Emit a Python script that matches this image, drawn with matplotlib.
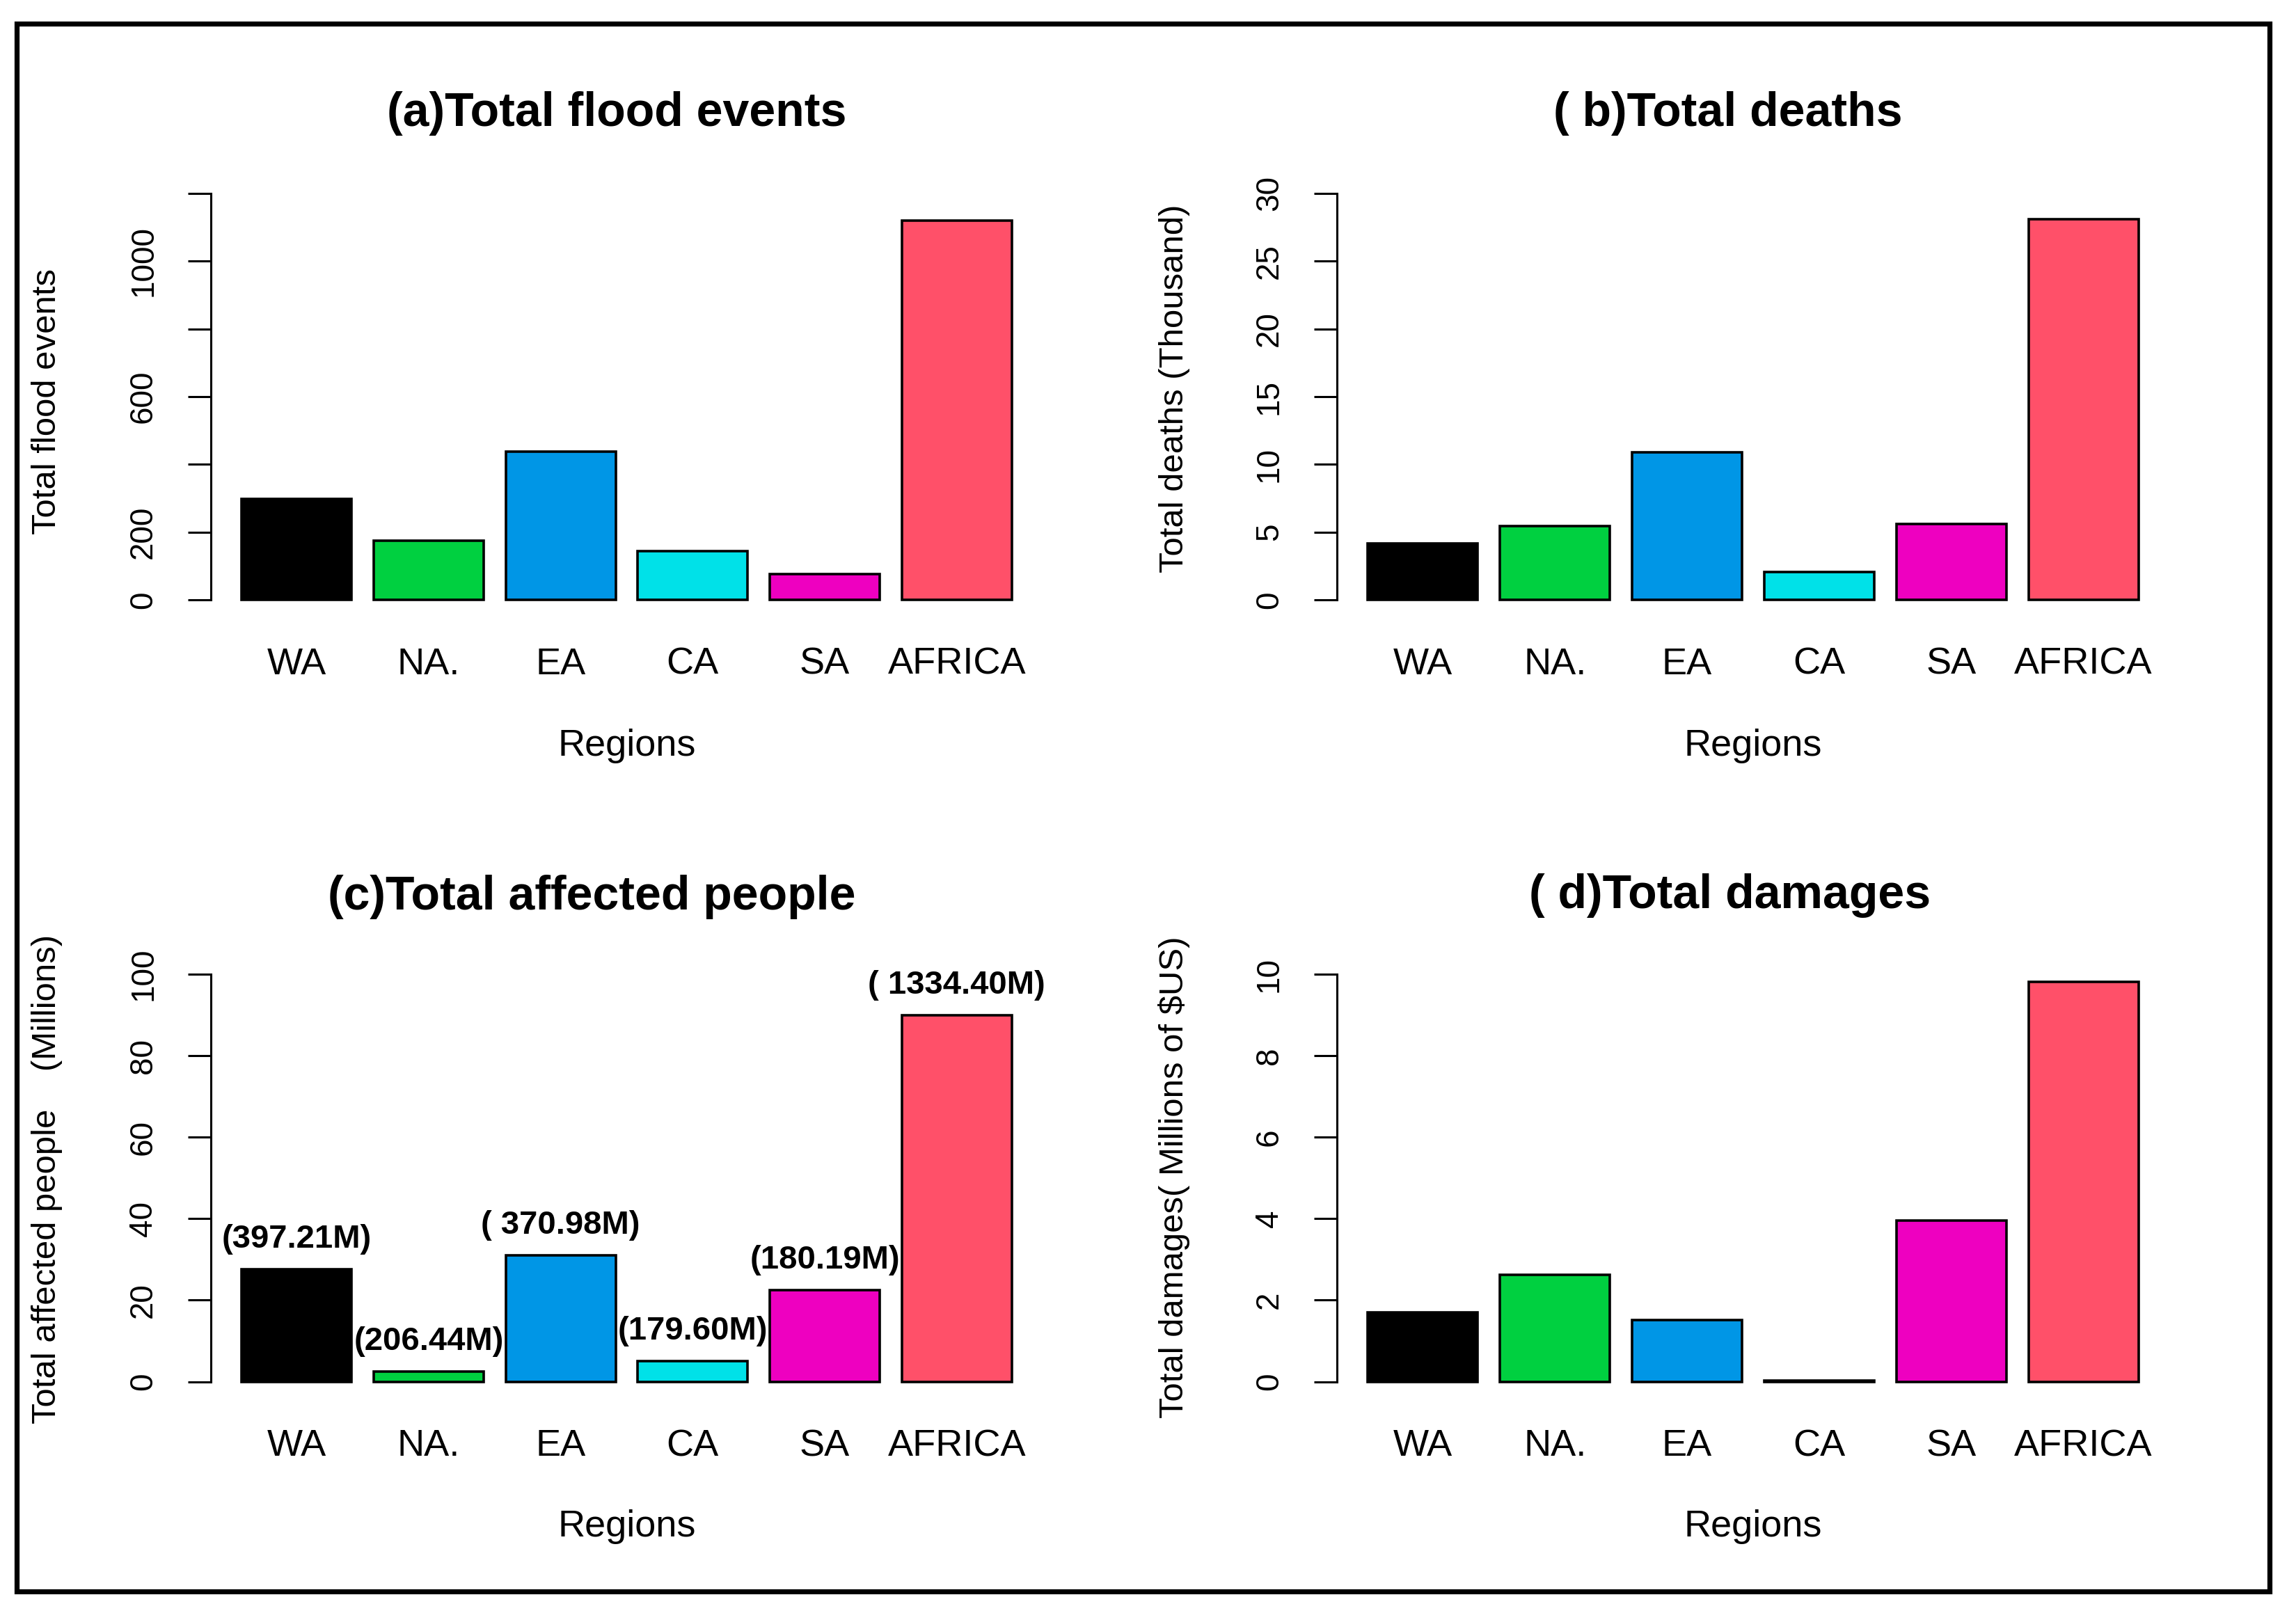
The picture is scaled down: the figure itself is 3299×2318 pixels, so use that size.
import matplotlib
matplotlib.use('Agg')
from matplotlib import pyplot as plt
from matplotlib.patches import Rectangle

plt.rcParams['font.family'] = ['Liberation Sans', 'DejaVu Sans']

regions = ['WA', 'NA.', 'EA', 'CA', 'SA', 'AFRICA']
colors = ['#000000', '#00D040', '#0096E6', '#00E1E8', '#EE00C0', '#FF5069']

flood_events = [297, 174, 437, 143, 77, 1120]
deaths = [4.17, 5.45, 10.87, 2.08, 5.62, 28.1]
affected = [27.6, 2.5, 31.0, 5.05, 22.5, 89.9]
affected_labels = ['(397.21M)', '(206.44M)', '( 370.98M)', '(179.60M)', '(180.19M)', '( 1334.40M)']
damages = [1.70, 2.62, 1.51, 0.02, 3.95, 9.81]

W, H = 3299, 2318
fig = plt.figure(figsize=(W / 200, H / 200), dpi=200)


def fx(x):
    return x / W


def fy(y):
    return 1 - y / H


def panel(x0, x1, y0, y1, values, ymax, step, shown, title, title_xy, ylabel, ylabel_xy, regions_y):
    ax = fig.add_axes([fx(x0), fy(y1), fx(x1) - fx(x0), (y1 - y0) / H])
    centers = [0.7 + 1.2 * i for i in range(len(values))]
    ax.bar(centers, values, width=1.0, color=colors, edgecolor='black', linewidth=1.3)
    ax.set_xlim(-0.08, 7.48)
    pad = ymax * 0.04
    ax.set_ylim(-pad, ymax + pad)
    for s in ['top', 'right', 'bottom']:
        ax.spines[s].set_visible(False)
    ax.spines['left'].set_bounds(0, ymax)
    ax.spines['left'].set_linewidth(1.1)
    ticks = [step * i for i in range(int(round(ymax / step)) + 1)]
    ax.set_yticks(ticks)
    ax.set_yticklabels([str(t) if t in shown else '' for t in ticks], rotation=90, va='center')
    ax.tick_params(axis='y', length=12, width=1.1, pad=15, labelsize=16.5)
    ax.set_xticks(centers)
    ax.set_xticklabels(regions)
    ax.tick_params(axis='x', length=0, pad=16, labelsize=19.5)
    fig.text(fx(title_xy[0]), fy(title_xy[1]), title, ha='center', va='center',
             fontsize=24.5, fontweight='bold')
    fig.text(fx(ylabel_xy[0]), fy(ylabel_xy[1]), ylabel, ha='center', va='center',
             rotation=90, fontsize=17.7)
    fig.text(fx((x0 + x1) / 2), fy(regions_y), 'Regions', ha='center', va='center', fontsize=19.5)
    return ax, centers


panel(303, 1498, 254.6, 885.4, flood_events, 1200, 200, [0, 200, 600, 1000],
      '(a)Total flood events', (886, 163), 'Total flood events', (68, 577), 1072)

panel(1921, 3117, 254.6, 885.4, deaths, 30, 5, [0, 5, 10, 15, 20, 25, 30],
      '( b)Total deaths', (2483, 163), 'Total deaths (Thousand)', (1687, 558), 1072)

ax, centers = panel(303, 1498, 1376.6, 2009, affected, 100, 20, [0, 20, 40, 60, 80, 100],
                    '(c)Total affected people', (850, 1289), 'Total affected people    (Millions)',
                    (68, 1694), 2194)
for x, v, lab in zip(centers, affected, affected_labels):
    ax.text(x, v + 7.3, lab, ha='center', va='center', fontsize=17, fontweight='bold')

panel(1921, 3117, 1376.6, 2009, damages, 10, 2, [0, 2, 4, 6, 8, 10],
      '( d)Total damages', (2486, 1287), 'Total damages( Millions of $US)', (1687, 1692), 2194)

fig.patches.append(Rectangle((fx(24), fy(2287)), fx(3261) - fx(24), (2287 - 33.5) / H,
                             transform=fig.transFigure, fill=False, edgecolor='black', linewidth=2.6))

fig.savefig('out.png', dpi=200)
